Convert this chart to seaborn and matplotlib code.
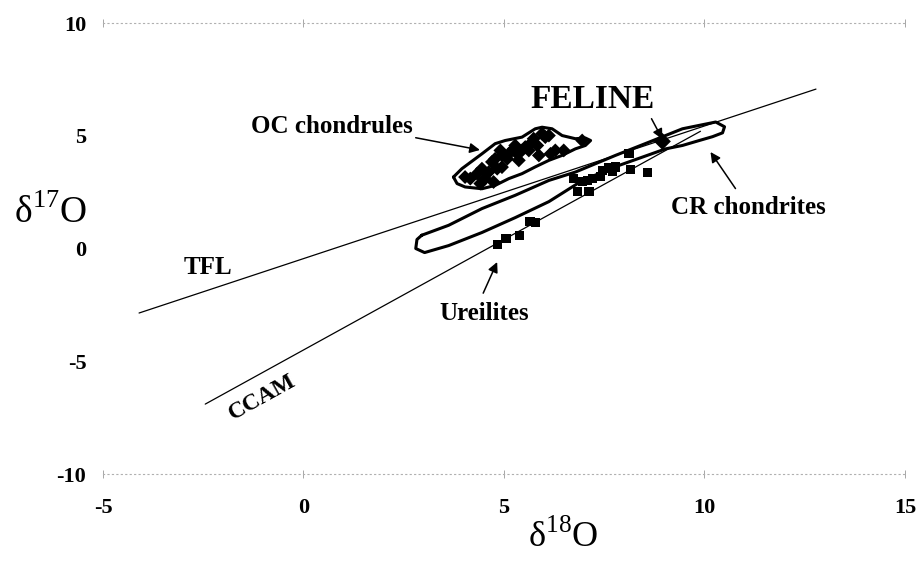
import numpy as np
import pandas as pd
import matplotlib
matplotlib.use("Agg")
import matplotlib.pyplot as plt
import seaborn as sns

# reference lines (end points)
tfl_x = [-4.1, 12.78]
tfl_y = [-2.86, 7.07]
ccam_x = [-2.45, 9.9]
ccam_y = [-6.9, 5.2]

# ureilites (squares)
ure_x = [4.84, 5.05, 5.39, 5.65, 5.78, 6.83, 7.12, 6.95, 7.08, 7.2, 7.4, 7.45,
         7.62, 7.78, 7.7, 8.12, 8.15, 8.58, 6.74]
ure_y = [0.19, 0.44, 0.59, 1.21, 1.15, 2.54, 2.54, 2.96, 3.02, 3.1, 3.19, 3.46,
         3.57, 3.61, 3.41, 4.2, 3.51, 3.36, 3.1]

# OC chondrules (diamonds)
oc_x = [4.03, 4.16, 4.33, 4.45, 4.53, 4.62, 4.7, 4.78, 4.83, 4.91, 4.95, 5.08,
        5.12, 5.24, 5.28, 5.33, 5.37, 5.45, 5.53, 5.62, 5.66, 5.74, 5.83, 5.87,
        5.95, 6.03, 6.12, 6.16, 6.28, 6.49, 6.95, 4.74, 4.41, 4.95]
oc_y = [3.17, 3.10, 3.32, 3.54, 3.10, 3.39, 3.84, 3.98, 3.54, 4.35, 4.13, 3.98,
        4.20, 4.42, 4.57, 4.20, 3.91, 4.35, 4.50, 4.35, 4.65, 4.87, 4.57, 4.13,
        5.09, 4.94, 5.01, 4.20, 4.35, 4.35, 4.79, 2.95, 2.88, 3.61]

# OC chondrule field outline
oc_cx = [3.74, 3.95, 4.45, 4.78, 5.03, 5.45, 5.78, 5.95, 6.2, 6.45, 6.78, 7.03,
         7.16, 7.03, 6.78, 6.45, 6.12, 5.78, 5.45, 5.12, 4.78, 4.45, 4.03, 3.83, 3.74]
oc_cy = [3.17, 3.54, 4.20, 4.65, 4.79, 4.94, 5.31, 5.38, 5.31, 5.01, 4.87, 4.90,
         4.79, 4.57, 4.42, 4.13, 3.91, 3.62, 3.32, 3.10, 2.80, 2.65, 2.73, 2.88, 3.17]

# CR chondrite field outline
cr_cx = [2.95, 3.62, 4.45, 5.28, 6.12, 6.78, 7.78, 8.62, 9.45, 10.28, 10.5, 10.45,
         10.2, 9.87, 9.45, 9.03, 8.62, 7.78, 6.95, 6.12, 5.28, 4.45, 3.62, 3.02,
         2.8, 2.83, 2.95]
cr_cy = [0.59, 1.03, 1.77, 2.36, 3.02, 3.39, 4.13, 4.72, 5.31, 5.61, 5.40, 5.13,
         4.96, 4.79, 4.57, 4.42, 4.16, 3.63, 3.01, 2.08, 1.37, 0.71, 0.13, -0.18,
         0.0, 0.40, 0.59]

feline_x = [8.95]
feline_y = [4.75]

x_ticks = [-5, 0, 5, 10, 15]
y_ticks = [-10, -5, 0, 5, 10]

sns.set_theme(style="white")
plt.rcParams['font.family'] = ['Liberation Serif', 'DejaVu Serif']
plt.rcParams['mathtext.fontset'] = 'custom'
plt.rcParams['mathtext.rm'] = 'Liberation Serif'
plt.rcParams['text.color'] = 'black'
plt.rcParams['axes.labelcolor'] = 'black'
plt.rcParams['xtick.labelcolor'] = 'black'
plt.rcParams['ytick.labelcolor'] = 'black'

fig = plt.figure(figsize=(9.17, 5.70), dpi=100)
ax = fig.add_axes([0.1123, 0.1684, 0.8746, 0.7912])

lines = pd.DataFrame({"x": tfl_x + ccam_x, "y": tfl_y + ccam_y,
                      "line": ["TFL"] * 2 + ["CCAM"] * 2})
sns.lineplot(data=lines, x="x", y="y", units="line", estimator=None,
             color="black", linewidth=0.9, sort=False, ax=ax)

ax.plot(oc_cx, oc_cy, color="black", linewidth=2.2, solid_joinstyle="round")
ax.plot(cr_cx, cr_cy, color="black", linewidth=2.2, solid_joinstyle="round")

sns.scatterplot(x=oc_x, y=oc_y, marker="D", s=50, color="black",
                edgecolor="none", ax=ax)
sns.scatterplot(x=ure_x, y=ure_y, marker="s", s=45, color="black",
                edgecolor="none", ax=ax)
sns.scatterplot(x=feline_x, y=feline_y, marker="D", s=75, color="black",
                edgecolor="none", ax=ax)

arrow = dict(arrowstyle="-|>", color="black", lw=1.1, mutation_scale=15)
ax.annotate("OC chondrules", xy=(4.4, 4.37), xytext=(0.7, 5.4),
            ha="center", va="center", fontsize=18, fontweight="bold",
            arrowprops=dict(arrow, shrinkA=0, shrinkB=0, relpos=(1.0, 0.05)))
ax.annotate("FELINE", xy=(8.95, 4.85), xytext=(7.2, 6.59),
            ha="center", va="center", fontsize=24, fontweight="bold",
            arrowprops=dict(arrow, shrinkA=0, shrinkB=0, relpos=(0.95, 0.1)))
ax.annotate("CR chondrites", xy=(10.15, 4.28), xytext=(11.1, 1.8),
            ha="center", va="center", fontsize=18, fontweight="bold",
            arrowprops=dict(arrow, shrinkA=4, shrinkB=0, relpos=(0.45, 1.0)))
ax.annotate("Ureilites", xy=(4.83, -0.6), xytext=(4.5, -2.86),
            ha="center", va="center", fontsize=18, fontweight="bold",
            arrowprops=dict(arrow, shrinkA=4, shrinkB=0, relpos=(0.45, 1.0)))
ax.text(-2.38, -0.86, "TFL", ha="center", va="center", fontsize=18,
        fontweight="bold")
ax.text(-1.02, -6.6, "CCAM", ha="center", va="center", fontsize=17,
        fontweight="bold", rotation=29)

ax.set_xlim(-5, 15)
ax.set_ylim(-10, 10)
ax.set_xticks(x_ticks)
ax.set_yticks(y_ticks)
ax.set_xticklabels([str(v) for v in x_ticks], fontsize=16, fontweight="bold")
ax.set_yticklabels([str(v) for v in y_ticks], fontsize=16, fontweight="bold")
ax.tick_params(axis="x", top=True, bottom=True, direction="inout", length=6,
               width=0.6, color="#999999", labelcolor="black", pad=14)
ax.tick_params(axis="y", length=0, labelcolor="black", pad=12)

for side in ["left", "right"]:
    ax.spines[side].set_visible(False)
for side in ["top", "bottom"]:
    ax.spines[side].set_linestyle((0, (1, 3)))
    ax.spines[side].set_color("#b0b0b0")
    ax.spines[side].set_linewidth(0.8)

ax.set_xlabel("δ$^{18}$O", fontsize=26, labelpad=0, color="black")
ax.set_ylabel("δ$^{17}$O", fontsize=27, rotation=0, labelpad=0,
              ha="center", va="center", color="black")
ax.yaxis.set_label_coords(-0.066, 0.58)
ax.xaxis.set_label_coords(0.574, -0.1)
ax.grid(False)

fig.savefig("out.png", dpi=100)
